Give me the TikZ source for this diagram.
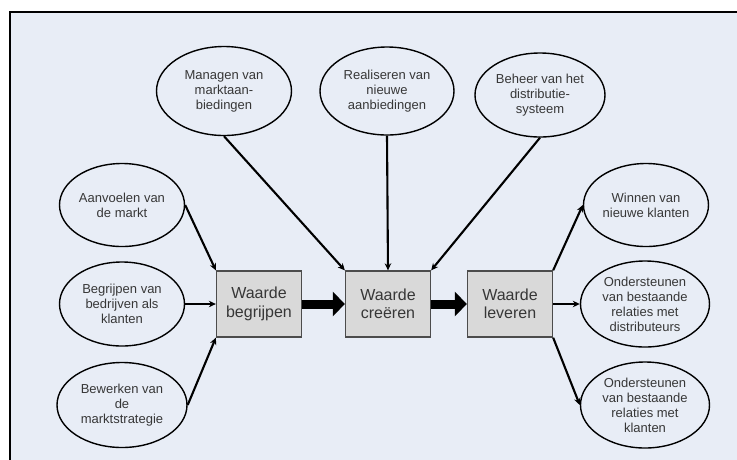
\documentclass[tikz,border=0pt]{standalone}
\usepackage{fontspec}
\setmainfont{Liberation Sans}
\usetikzlibrary{shapes.geometric,arrows.meta}
\definecolor{panel}{RGB}{232,237,246}
\definecolor{boxfill}{RGB}{217,217,217}
\definecolor{txt}{RGB}{55,55,55}

\begin{document}
\begin{tikzpicture}[x=1pt,y=-1pt,
  oval/.style={ellipse,draw=black,line width=1.4pt,inner sep=0pt,
    minimum width=127pt,minimum height=85pt,align=center,text=txt,
    font=\fontsize{13}{15}\selectfont},
  stage/.style={rectangle,draw=black!70,fill=boxfill,line width=1.3pt,
    minimum width=85pt,minimum height=66pt,align=center,text=txt,
    font=\fontsize{16}{18.5}\selectfont},
  link/.style={line width=2.1pt,-{Stealth[length=7pt,width=6.5pt]}},
  flow/.style={line width=9pt,-{Triangle[length=12pt,width=24pt]}}]

\useasboundingbox (0,0) rectangle (737,459);

% panel with its frame (open to the right and bottom)
\fill[panel] (10,12) rectangle (745,470);
\draw[line width=2pt] (745,12) -- (10,12) -- (10,470);

% the three stages
\node[stage] (beg) at (259,304) {Waarde\\begrijpen};
\node[stage] (cre) at (388,304) {Waarde\\creëren};
\node[stage] (lev) at (510,304) {Waarde\\leveren};

% inputs on the left
\node[oval,minimum width=125pt,minimum height=83pt] (aan) at (122,205) {Aanvoelen van\\de markt};
\node[oval,minimum width=125pt,minimum height=84pt] (bed) at (122,304) {Begrijpen van\\bedrijven als\\klanten};
\node[oval,minimum width=130pt,minimum height=85pt] (bew) at (122,405) {Bewerken van\\de\\marktstrategie};

% inputs on top
\node[oval,minimum width=135pt,minimum height=89pt] (man) at (224,91) {Managen van\\marktaan-\\biedingen};
\node[oval,minimum width=134pt,minimum height=88pt] (rea) at (387,91) {Realiseren van\\nieuwe\\aanbiedingen};
\node[oval,minimum width=130pt,minimum height=84pt] (beh) at (540,95) {Beheer van het\\distributie-\\systeem};

% outputs on the right
\node[oval,minimum width=125pt,minimum height=83pt] (win) at (646,205) {Winnen van\\nieuwe klanten};
\node[oval,minimum width=129pt,minimum height=86pt] (od) at (645,304) {Ondersteunen\\van bestaande\\relaties met\\distributeurs};
\node[oval,minimum width=129pt,minimum height=86pt] (ok) at (645,405) {Ondersteunen\\van bestaande\\relaties met\\klanten};

% connectors
\draw[link] (aan.east) -- (beg.north west);
\draw[link] (bed.east) -- (beg.west);
\draw[link] (bew.east) -- (beg.south west);

\draw[link] (man.south) -- (cre.north west);
\draw[link] (rea.south) -- (cre.north);
\draw[link] (beh.south) -- (cre.north east);

\draw[link] (lev.north east) -- (win.west);
\draw[link] (lev.east) -- (od.west);
\draw[link] (lev.south east) -- (ok.west);

\draw[flow] (beg.east) -- (cre.west);
\draw[flow] (cre.east) -- (lev.west);
\end{tikzpicture}
\end{document}
